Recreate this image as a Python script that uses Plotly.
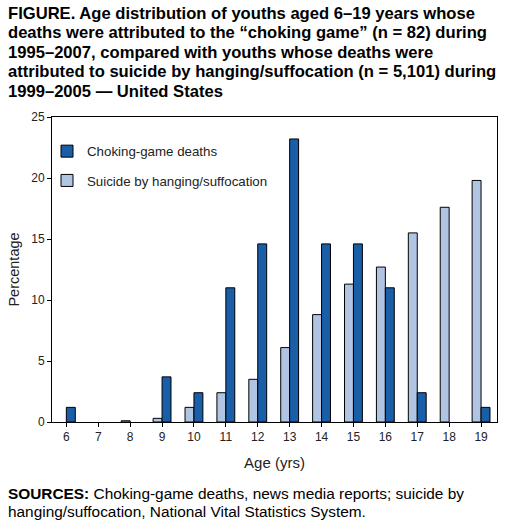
import plotly.graph_objects as go

ages = [6, 7, 8, 9, 10, 11, 12, 13, 14, 15, 16, 17, 18, 19]
choking = [1.2, 0, 0, 3.7, 2.4, 11.0, 14.6, 23.2, 14.6, 14.6, 11.0, 2.4, 0, 1.2]
suicide = [0, 0, 0.1, 0.3, 1.2, 2.4, 3.5, 6.1, 8.8, 11.3, 12.7, 15.5, 17.6, 19.8]

title_lines = [
    "FIGURE. Age distribution of youths aged 6–19 years whose",
    "deaths were attributed to the “choking game” (n = 82) during",
    "1995–2007, compared with youths whose deaths were",
    "attributed to suicide by hanging/suffocation (n = 5,101) during",
    "1999–2005 — United States",
]
source_lines = [
    "<b>SOURCES:</b> Choking-game deaths, news media reports; suicide by",
    "hanging/suffocation, National Vital Statistics System.",
]

FONT = "Liberation Sans, Arial, Helvetica, sans-serif"
W, H = 513, 528
ml, mr, mt, mb = 52, 16, 117, 106
pw, ph = W - ml - mr, H - mt - mb


def px_to_paper(fx, fy):
    return (fx - ml) / pw, 1 - (fy - mt) / ph


def nonzero(vals):
    # zero-height bars are not drawn in the reference
    return [v if v != 0 else None for v in vals]


fig = go.Figure()
fig.add_trace(go.Bar(
    x=ages, y=nonzero(suicide), name="Suicide by hanging/suffocation",
    marker=dict(color="#B1C5E3", line=dict(color="black", width=1)),
    legendrank=2, legendgroup="b",
))
fig.add_trace(go.Bar(
    x=ages, y=nonzero(choking), name="Choking-game deaths",
    marker=dict(color="#1A5EA8", line=dict(color="black", width=1)),
    legendrank=1, legendgroup="a",
))

annotations = []
for i, t in enumerate(title_lines):
    x, y = px_to_paper(6, 13 + 19.6 * i)
    annotations.append(dict(
        text="<b>" + t + "</b>", x=x, y=y,
        xref="paper", yref="paper", xanchor="left", yanchor="middle",
        showarrow=False, font=dict(family=FONT, size=16.6, color="black"),
    ))
for i, t in enumerate(source_lines):
    x, y = px_to_paper(6, 493 + 18 * i)
    annotations.append(dict(
        text=t, x=x, y=y,
        xref="paper", yref="paper", xanchor="left", yanchor="middle",
        showarrow=False, font=dict(family=FONT, size=15.4, color="black"),
    ))

lx, ly = px_to_paper(47, 136)

fig.update_layout(
    width=W, height=H,
    margin=dict(l=ml, r=mr, t=mt, b=mb, pad=0),
    paper_bgcolor="white", plot_bgcolor="white",
    barmode="group", bargap=0.44, bargroupgap=0,
    font=dict(family=FONT, size=12, color="#222"),
    showlegend=True,
    legend=dict(
        x=lx, y=ly, xanchor="left", yanchor="top",
        bgcolor="rgba(0,0,0,0)", font=dict(family=FONT, size=13.3, color="#222"),
        traceorder="grouped", tracegroupgap=9,
    ),
    xaxis=dict(
        range=[5.55, 19.5], tickmode="array", tickvals=ages,
        ticktext=[str(a) for a in ages],
        showline=True, linecolor="black", linewidth=1, mirror=True,
        ticks="outside", ticklen=4, tickcolor="black", showgrid=False,
        zeroline=False,
        title=dict(text="Age (yrs)", font=dict(family=FONT, size=15, color="#222"), standoff=14),
        tickfont=dict(size=12),
    ),
    yaxis=dict(
        range=[0, 25], tickvals=[0, 5, 10, 15, 20, 25],
        showline=True, linecolor="black", linewidth=1, mirror=True,
        ticks="outside", ticklen=4, tickcolor="black", showgrid=False,
        zeroline=False,
        title=dict(text="Percentage", font=dict(family=FONT, size=14.5, color="#222"), standoff=8),
        tickfont=dict(size=12),
    ),
    annotations=annotations,
)

fig.write_html("out.html", config={"displayModeBar": False},
               post_script="document.body.style.margin='0';")
